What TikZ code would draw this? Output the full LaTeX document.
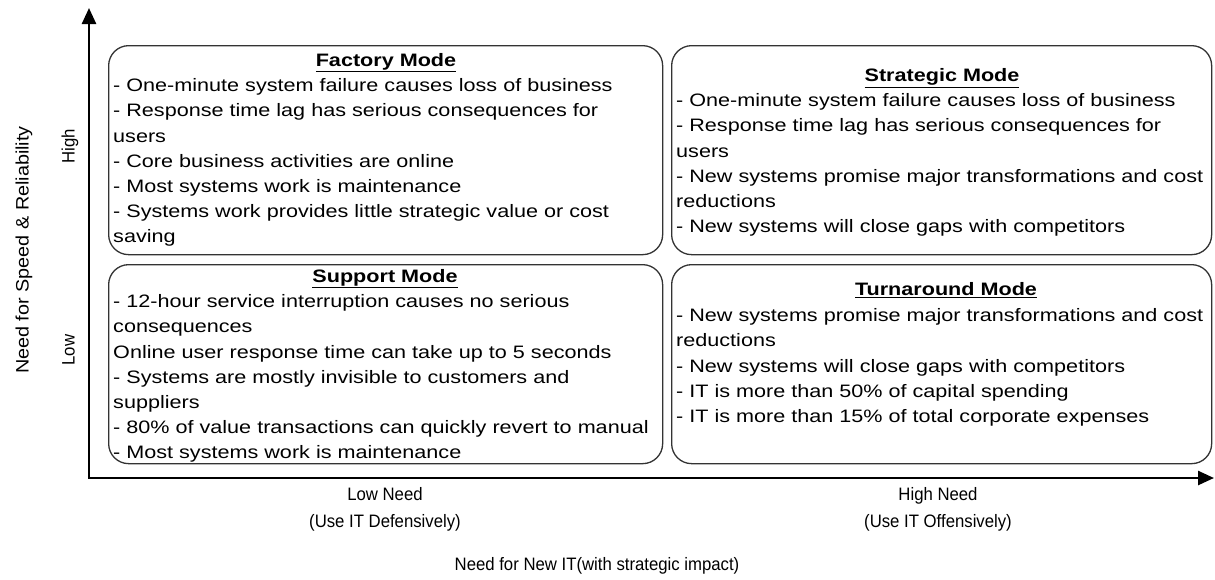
\documentclass[tikz,border=0pt]{standalone}
\usepackage{fontspec}
\setmainfont{Liberation Sans}
\newfontfamily\widefont{Liberation Sans}[FakeStretch=1.2]
\newfontfamily\axfont{Liberation Sans}[FakeStretch=1.1]
\newfontfamily\narrowfont{Liberation Sans}[FakeStretch=0.93]
\usetikzlibrary{arrows.meta}
\begin{document}
\begin{tikzpicture}[x=1pt,y=-1pt,
  quad/.style={draw=black!80, line width=1.3pt, rounded corners=20pt, inner sep=0pt, anchor=north west},
  body/.style={anchor=north west, align=left, inner sep=0pt, font=\widefont\fontsize{18}{25.2}\selectfont},
  ttl/.style={anchor=base, inner sep=0pt, font=\widefont\fontsize{18}{22}\selectfont\bfseries},
  lab/.style={anchor=base, inner sep=0pt, font=\narrowfont\fontsize{18}{22}\selectfont},
  axisline/.style={line width=2.5pt, line join=miter, {Triangle[length=16pt,width=14pt]}-{Triangle[length=16pt,width=14pt]}}]
\useasboundingbox (0,0) rectangle (1215,579);
% quadrant boxes
\node[quad, minimum width=554pt, minimum height=209pt] (fac) at (108,45) {};
\node[quad, minimum width=540pt, minimum height=209pt] (str) at (671,45) {};
\node[quad, minimum width=554pt, minimum height=199pt] (sup) at (108,264) {};
\node[quad, minimum width=540pt, minimum height=199pt] (tur) at (671,264) {};
% titles
\node[ttl] (facT) at (386,66.5) {\underline{Factory Mode}};
\node[ttl] (strT) at (942,81.5) {\underline{Strategic Mode}};
\node[ttl] (supT) at (385,282.5) {\underline{Support Mode}};
\node[ttl] (turT) at (946,295.5) {\underline{Turnaround Mode}};
% bodies
\node[body] (facB) at (113,78.5) {- One-minute system failure causes loss of business\\
- Response time lag has serious consequences for\\
users\\
- Core business activities are online\\
- Most systems work is maintenance\\
- Systems work provides little strategic value or cost\\
saving};
\node[body] (strB) at (676,93.5) {- One-minute system failure causes loss of business\\
- Response time lag has serious consequences for\\
users\\
- New systems promise major transformations and cost\\
reductions\\
- New systems will close gaps with competitors};
\node[body] (supB) at (113,294.5) {- 12-hour service interruption causes no serious\\
consequences\\
Online user response time can take up to 5 seconds\\
- Systems are mostly invisible to customers and\\
suppliers\\
- 80\% of value transactions can quickly revert to manual\\
- Most systems work is maintenance};
\node[body] (turB) at (676,308.5) {- New systems promise major transformations and cost\\
reductions\\
- New systems will close gaps with competitors\\
- IT is more than 50\% of capital spending\\
- IT is more than 15\% of total corporate expenses};
% axes
\coordinate (ytip) at (89,8);
\coordinate (orig) at (89,478);
\coordinate (xtip) at (1214,478);
\draw[axisline] (ytip) -- (orig) -- (xtip);
% axis labels
\node[lab, font=\axfont\fontsize{18}{22}\selectfont, rotate=90] (ylab) at (28.5,250) {Need for Speed \& Reliability};
\node[lab, rotate=90] (yhigh) at (74.5,146) {High};
\node[lab, rotate=90] (ylow) at (74.5,350) {Low};
\node[lab] (xlow1) at (385,500.5) {Low Need};
\node[lab] (xlow2) at (385,527) {(Use IT Defensively)};
\node[lab] (xhigh1) at (938,500.5) {High Need};
\node[lab] (xhigh2) at (938,527) {(Use IT Offensively)};
\node[lab] (xlab) at (597,570) {Need for New IT(with strategic impact)};
\end{tikzpicture}
\end{document}
